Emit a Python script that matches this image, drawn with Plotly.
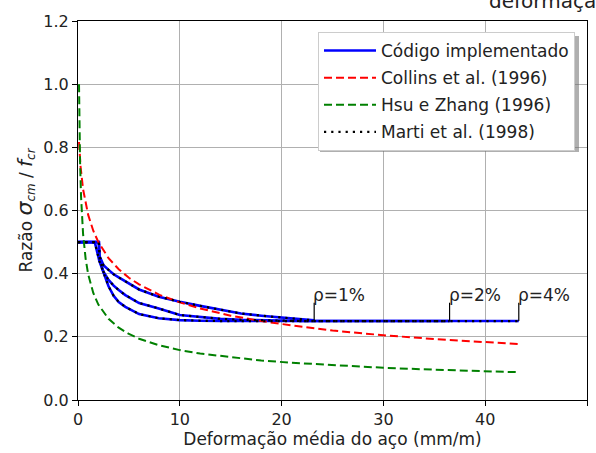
import plotly.graph_objects as go

# ---------------- data ----------------
# Código implementado / Marti et al. (three reinforcement ratios)
rho_labels = ["ρ=1%", "ρ=2%", "ρ=4%"]
rho_x_end = [23.2, 36.5, 43.3]
rho_y_end = [0.25, 0.25, 0.25]

x_rho1 = [0.0, 2.05, 2.12, 2.5, 3.0, 3.5, 4.0, 4.65, 6.0, 7.93, 10.0, 12.0, 14.0, 16.0, 18.0, 20.0, 22.0, 23.2]
y_rho1 = [0.50, 0.50, 0.455, 0.427, 0.412, 0.398, 0.388, 0.375, 0.350, 0.327, 0.311, 0.298, 0.285, 0.274, 0.267, 0.261, 0.255, 0.252]

x_rho2 = [0.0, 2.05, 2.12, 2.5, 3.0, 3.5, 4.0, 4.65, 6.0, 7.93, 10.0, 12.0, 14.0, 16.0, 18.0, 20.0, 22.0, 36.5]
y_rho2 = [0.50, 0.50, 0.445, 0.406, 0.380, 0.362, 0.348, 0.332, 0.307, 0.290, 0.269, 0.262, 0.257, 0.254, 0.252, 0.251, 0.250, 0.250]

x_rho4 = [0.0, 1.65, 2.1, 2.7, 3.0, 3.5, 4.0, 4.65, 6.0, 7.93, 10.0, 12.0, 14.0, 43.3]
y_rho4 = [0.50, 0.50, 0.44, 0.385, 0.360, 0.330, 0.310, 0.295, 0.272, 0.259, 0.253, 0.251, 0.250, 0.250]

# Collins et al. (1996)
x_collins = [0.1, 0.25, 0.5, 1.0, 1.5, 2.0, 3.0, 4.0, 5.0, 6.0, 8.0, 10.0, 12.0, 15.0, 18.0, 21.0, 25.0, 30.0, 35.0, 40.0, 43.3]
y_collins = [0.817, 0.739, 0.667, 0.586, 0.536, 0.500, 0.449, 0.414, 0.387, 0.366, 0.333, 0.309, 0.290, 0.267, 0.250, 0.236, 0.220, 0.205, 0.193, 0.183, 0.177]

# Hsu e Zhang (1996)
x_hsu = [0.1, 0.15, 0.2, 0.3, 0.5, 0.75, 1.0, 1.5, 2.0, 3.0, 4.0, 5.0, 6.0, 8.0, 10.0, 12.0, 15.0, 18.0, 21.0, 25.0, 30.0, 35.0, 40.0, 43.3]
y_hsu = [1.000, 0.850, 0.758, 0.644, 0.525, 0.447, 0.398, 0.339, 0.302, 0.257, 0.229, 0.209, 0.194, 0.173, 0.158, 0.147, 0.135, 0.125, 0.118, 0.110, 0.102, 0.096, 0.091, 0.088]

x_ticks = [0, 10, 20, 30, 40, 50]
y_ticks = [0.0, 0.2, 0.4, 0.6, 0.8, 1.0, 1.2]

FONT = "DejaVu Sans"
TXT = "#222222"
fig = go.Figure()

rho_curves = [(x_rho1, y_rho1), (x_rho2, y_rho2), (x_rho4, y_rho4)]

for i, (xs, ys) in enumerate(rho_curves):
    fig.add_trace(go.Scatter(x=xs, y=ys, mode="lines", name="Código implementado",
                             legendgroup="cod", showlegend=(i == 0),
                             line=dict(color="#0000ff", width=2.6)))

fig.add_trace(go.Scatter(x=x_collins, y=y_collins, mode="lines", name="Collins et al. (1996)",
                         legendgroup="collins",
                         line=dict(color="#ff0000", width=2, dash="8px,4px")))
fig.add_trace(go.Scatter(x=x_hsu, y=y_hsu, mode="lines", name="Hsu e Zhang (1996)",
                         legendgroup="hsu",
                         line=dict(color="#008000", width=2, dash="8px,4px")))

for i, (xs, ys) in enumerate(rho_curves):
    fig.add_trace(go.Scatter(x=xs, y=ys, mode="lines", name="Marti et al. (1998)",
                             legendgroup="marti", showlegend=(i == 0),
                             line=dict(color="#000000", width=2.2, dash="2.2px,5px")))

# rho labels with vertical leader lines
for lab, xe, ye in zip(rho_labels, rho_x_end, rho_y_end):
    fig.add_shape(type="line", xref="x", yref="y", x0=xe, x1=xe, y0=ye, y1=ye + 0.058,
                  line=dict(color="black", width=1.2))
    fig.add_annotation(x=xe, y=ye + 0.058, xref="x", yref="y", text=lab, showarrow=False,
                       xanchor="left", yanchor="bottom", xshift=-3, yshift=-4,
                       font=dict(family=FONT, size=17, color=TXT))

# partially visible title at top right (cut by the figure edge)
fig.add_annotation(x=(487 - 78) / 509, y=1.054, xref="paper", yref="paper", text="deformação",
                   showarrow=False, xanchor="left", yanchor="middle",
                   font=dict(family=FONT, size=20, color=TXT))

# legend shadow
fig.add_shape(type="rect", xref="paper", yref="paper", layer="above",
              x0=(320 - 78) / 509, x1=(579 - 78) / 509,
              y0=(400 - 152) / 379, y1=(400 - 36) / 379,
              line=dict(width=0), fillcolor="rgba(110,110,110,0.55)")

axis_common = dict(showline=True, linecolor="black", linewidth=1, mirror=True,
                   ticks="outside", ticklen=5, tickcolor="black",
                   showgrid=True, gridcolor="#b0b0b0", gridwidth=1, zeroline=False,
                   tickfont=dict(family=FONT, size=16, color=TXT))

fig.update_xaxes(range=[0, 50], tickvals=x_ticks, ticktext=[str(v) for v in x_ticks],
                 title=dict(text="Deformação média do aço (mm/m)", standoff=4,
                            font=dict(family=FONT, size=17, color=TXT)),
                 **axis_common)
fig.update_yaxes(range=[0, 1.2], tickvals=y_ticks, ticktext=[f"{v:.1f}" for v in y_ticks],
                 title=dict(text="Razão <span style='font-size:22px'><i>σ</i></span><sub><i>cm</i></sub> / <span style='font-size:20px'><i>f</i></span><sub><i>cr</i></sub>",
                            standoff=6, font=dict(family=FONT, size=17, color=TXT)),
                 **axis_common)

fig.update_layout(
    width=596, height=453,
    margin=dict(l=78, r=9, t=21, b=53),
    plot_bgcolor="white", paper_bgcolor="white",
    font=dict(family=FONT, size=17, color=TXT),
    legend=dict(x=(575 - 78) / 509, y=(400 - 32) / 379, xanchor="right", yanchor="top",
                bgcolor="white", bordercolor="#cccccc", borderwidth=1,
                font=dict(family=FONT, size=17, color=TXT),
                tracegroupgap=2, itemwidth=52),
)

fig.write_html("out.html")
